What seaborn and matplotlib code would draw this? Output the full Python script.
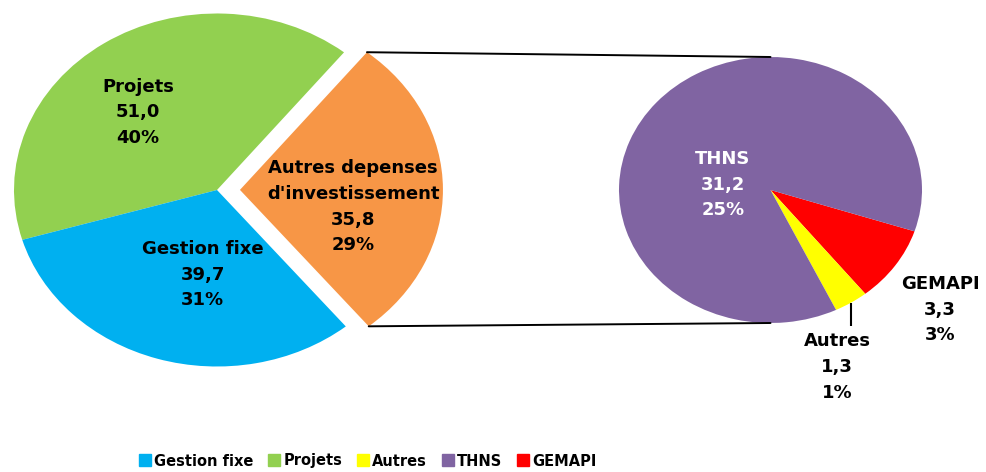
import numpy as np
import matplotlib
matplotlib.use("Agg")
import matplotlib.pyplot as plt
import seaborn as sns
from matplotlib.patches import ConnectionPatch
from matplotlib.lines import Line2D

# ---------------- data ----------------
main_categories = ["Projets", "Autres depenses\nd'investissement", "Gestion fixe"]
main_values = [51.0, 35.8, 39.7]
main_pcts = ["40%", "29%", "31%"]

sub_categories = ["GEMAPI", "Autres", "THNS"]
sub_values = [3.3, 1.3, 31.2]
sub_pcts = ["3%", "1%", "25%"]

legend_labels = ["Gestion fixe", "Projets", "Autres", "THNS", "GEMAPI"]

# ---------------- style ----------------
sns.set_theme(style="white")
plt.rcParams["font.family"] = ["DejaVu Sans"]
plt.rcParams["font.weight"] = "bold"
plt.rcParams["text.color"] = "black"

palette = {
    "Gestion fixe": "#00B0F0",
    "Projets": "#92D050",
    "Autres depenses\nd'investissement": "#F79646",
    "Autres": "#FFFF00",
    "THNS": "#8064A2",
    "GEMAPI": "#FF0000",
}

W, H = 986, 472
fig = plt.figure(figsize=(W / 100, H / 100), dpi=100)
fig.patch.set_facecolor("white")


def pie_axes(cx, cy, rx, ry, pad=1.45):
    left = (cx - pad * rx) / W
    bottom = (H - cy - pad * ry) / H
    ax = fig.add_axes([left, bottom, 2 * pad * rx / W, 2 * pad * ry / H])
    return ax, pad


def fmt(v):
    return f"{v:.1f}".replace(".", ",")


# ---------------- main pie ----------------
axL, padL = pie_axes(217, 190, 203, 176.5)
wL, _ = axL.pie(main_values, colors=[palette[c] for c in main_categories],
                startangle=196.4, counterclock=False,
                explode=[0, 0.113, 0],
                wedgeprops=dict(linewidth=0))
axL.set_aspect("auto")
axL.set_xlim(-padL, padL)
axL.set_ylim(-padL, padL)
axL.axis("off")

label_pos_L = [(-0.389, 0.44), (0.67, -0.096), (-0.07, -0.48)]
for cat, v, p, (x, y) in zip(main_categories, main_values, main_pcts, label_pos_L):
    axL.text(x, y, f"{cat}\n{fmt(v)}\n{p}", ha="center", va="center",
             multialignment="center", fontsize=13, fontweight="bold",
             color="black", linespacing=1.55)

# ---------------- secondary pie ----------------
axR, padR = pie_axes(770.5, 190, 151.5, 133)
wR, _ = axR.pie(sub_values, colors=[palette[c] for c in sub_categories],
                startangle=-18.1, counterclock=False,
                wedgeprops=dict(linewidth=0))
axR.set_aspect("auto")
axR.set_xlim(-padR, padR)
axR.set_ylim(-padR, padR)
axR.axis("off")

label_pos_R = [(1.12, -0.9), (0.44, -1.33), (-0.315, 0.04)]
label_col_R = ["black", "black", "white"]
for cat, v, p, (x, y), col in zip(sub_categories, sub_values, sub_pcts,
                                  label_pos_R, label_col_R):
    axR.text(x, y, f"{cat}\n{fmt(v)}\n{p}", ha="center", va="center",
             multialignment="center", fontsize=13, fontweight="bold",
             color=col, linespacing=1.55)

# leader line for the small "Autres" slice
wa = wR[1]
mid = np.deg2rad((wa.theta1 + wa.theta2) / 2)
mx, my = wa.center[0] + wa.r * np.cos(mid), wa.center[1] + wa.r * np.sin(mid)
axR.plot([mx, mx], [my, -1.02], color="black", lw=1.5, solid_capstyle="butt")

# ---------------- connector lines ----------------
wo = wL[1]
for ang, yb in [(wo.theta2, 1.0), (wo.theta1, -1.0)]:
    a = np.deg2rad(ang)
    pa = (wo.center[0] + wo.r * np.cos(a), wo.center[1] + wo.r * np.sin(a))
    con = ConnectionPatch(xyA=pa, coordsA=axL.transData,
                          xyB=(0, yb), coordsB=axR.transData,
                          color="black", lw=1.4)
    fig.add_artist(con)

# ---------------- legend ----------------
handles = [Line2D([], [], marker="s", linestyle="none", markersize=9,
                  markerfacecolor=palette[l], markeredgecolor=palette[l])
           for l in legend_labels]
leg = fig.legend(handles, legend_labels, loc="center", ncol=5,
                 bbox_to_anchor=(367 / W, 1 - 461 / H), frameon=False,
                 prop=dict(size=10.5, weight="bold"), handletextpad=0.1,
                 columnspacing=0.95, handlelength=1.0, borderaxespad=0)
for t in leg.get_texts():
    t.set_color("black")

fig.savefig("out.png", dpi=100, facecolor="white")
